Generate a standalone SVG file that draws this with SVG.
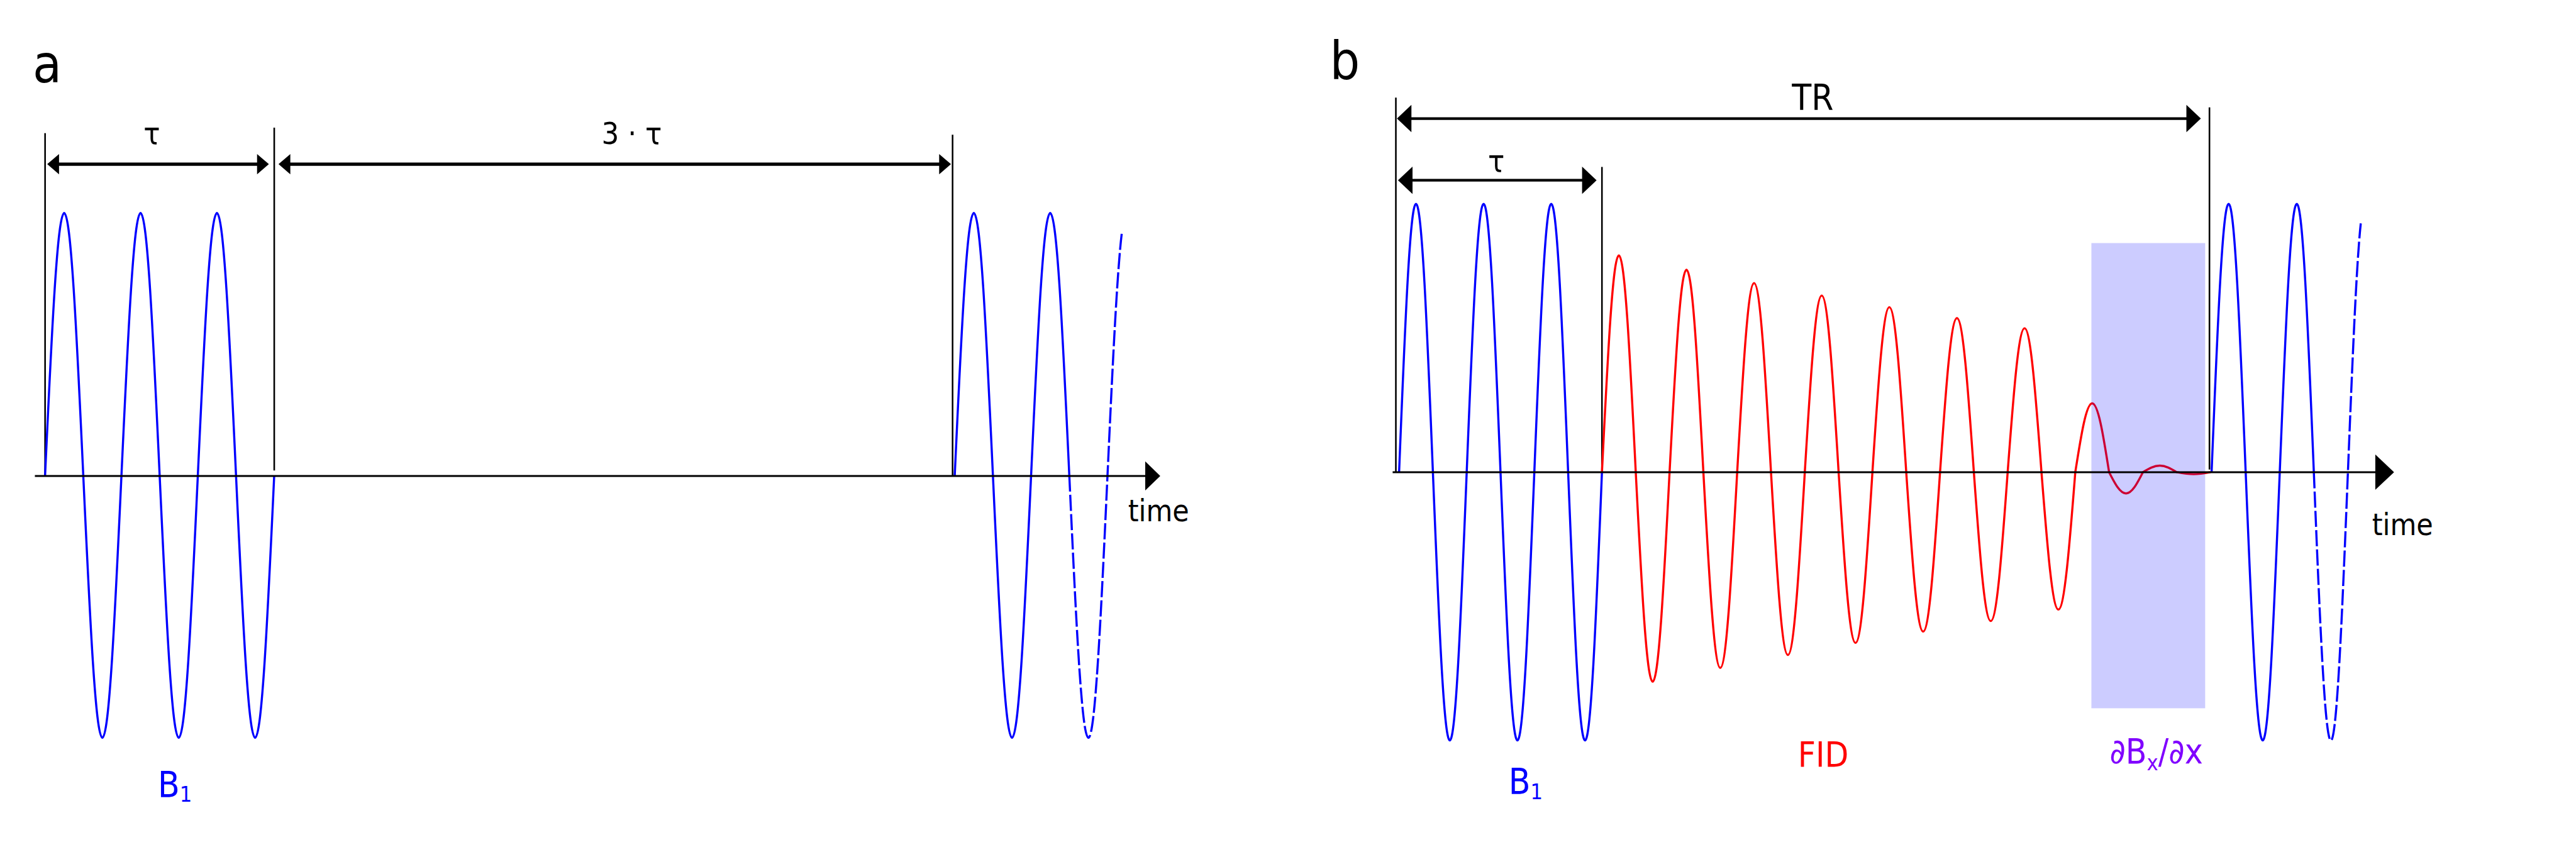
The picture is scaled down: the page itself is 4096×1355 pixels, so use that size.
<svg xmlns="http://www.w3.org/2000/svg" width="4096" height="1355" viewBox="0 0 4096 1355">
<style>
.bg{fill:#fff}
.wave{fill:none;stroke-width:4;stroke-linejoin:round}
.blue{stroke:#0000ff}
.red{stroke:#ff0000}
.dash{stroke-dasharray:30 6}
.vline{stroke:#000;stroke-width:3}
.axis{stroke:#000;stroke-width:3.5}
.dimA{stroke:#000;stroke-width:6}
.dimB{stroke:#000;stroke-width:5}
.head{fill:#000}
.grad{fill:#0000ff;fill-opacity:0.2}
.t{font-family:"DejaVu Sans","Liberation Sans",sans-serif;font-stretch:condensed}
.k{fill:#000}
.tb{fill:#0000ff}
.tr{fill:#ff0000}
.tp{fill:#8000ff}
</style>
<rect class="bg" x="0" y="0" width="4096" height="1355"/>
<g transform="scale(0.853333)">
  <g id="panel-a">
    <text id="label-a" class="t k" x="61" y="153" font-size="98">a</text>
    <g id="a-guides">
      <line class="vline" x1="84" y1="248" x2="84" y2="887"/>
      <line class="vline" x1="511" y1="238" x2="511" y2="877"/>
      <line class="vline" x1="1775" y1="251" x2="1775" y2="887"/>
    </g>
    <g id="a-pulse1">
      <path class="wave blue" d="M84,886
        c12.51,-270.07 23.07,-489 35.58,-489 c12.51,0 23.07,218.93 35.58,489 c12.51,270.07 23.07,489 35.58,489 c12.51,0 23.07,-218.93 35.58,-489
        c12.51,-270.07 23.07,-489 35.58,-489 c12.51,0 23.07,218.93 35.58,489 c12.51,270.07 23.07,489 35.58,489 c12.51,0 23.07,-218.93 35.58,-489
        c12.51,-270.07 23.07,-489 35.58,-489 c12.51,0 23.07,218.93 35.58,489 c12.51,270.07 23.07,489 35.58,489 c12.51,0 23.07,-218.93 35.58,-489"/>
    </g>
    <g id="a-pulse2">
      <path class="wave blue" d="M1779,886
        c12.51,-270.07 23.07,-489 35.58,-489 c12.51,0 23.07,218.93 35.58,489 c12.51,270.07 23.07,489 35.58,489 c12.51,0 23.07,-218.93 35.58,-489
        c12.51,-270.07 23.07,-489 35.58,-489 c12.51,0 23.07,218.93 35.58,489"/>
      <path class="wave blue dash" d="M1992.5,886
        c12.51,270.07 23.07,489 35.58,489 c12.51,0 23.07,-218.93 35.58,-489
        c9.51,-205.25 17.89,-380.97 26.86,-453.49"/>
    </g>
    <text id="a-tau" class="t k" x="283" y="268" font-size="57" text-anchor="middle">τ</text>
    <text id="a-3tau" class="t k" x="1121" y="268" font-size="57">3 · τ</text>
    <text id="a-time" class="t k" x="2102" y="972" font-size="56">time</text>
    <text id="a-B1" class="t tb" x="294" y="1486" font-size="66">B<tspan font-size="40" dy="8">1</tspan></text>
  </g>

  <g id="panel-b">
    <text id="label-b" class="t k" x="2478" y="148" font-size="98">b</text>
    <g id="b-guides">
      <line class="vline" x1="2601" y1="182" x2="2601" y2="880"/>
      <line class="vline" x1="2985" y1="311" x2="2985" y2="880"/>
      <line class="vline" x1="4117" y1="200" x2="4117" y2="875"/>
    </g>
    <g id="b-pulse1">
      <path class="wave blue" d="M2607,880
        c11.08,-276.15 20.43,-500 31.5,-500 c11.08,0 20.43,223.85 31.5,500 c11.08,276.15 20.43,500 31.5,500 c11.08,0 20.43,-223.85 31.5,-500
        c11.08,-276.15 20.43,-500 31.5,-500 c11.08,0 20.43,223.85 31.5,500 c11.08,276.15 20.43,500 31.5,500 c11.08,0 20.43,-223.85 31.5,-500
        c11.08,-276.15 20.43,-500 31.5,-500 c11.08,0 20.43,223.85 31.5,500 c11.08,276.15 20.43,500 31.5,500 c11.08,0 20.43,-223.85 31.5,-500"/>
    </g>
    <g id="b-fid">
      <path class="wave red" d="M2985,880
        c11.08,-223.13 20.43,-404 31.5,-404 c11.08,0 20.43,180.87 31.5,404 c11.08,215.67 20.43,390.5 31.5,390.5 c11.08,0 20.43,-174.83 31.5,-390.5
        c11.08,-208.38 20.43,-377.3 31.5,-377.3 c11.08,0 20.43,168.92 31.5,377.3 c11.08,201.42 20.43,364.7 31.5,364.7 c11.08,0 20.43,-163.28 31.5,-364.7
        c11.08,-194.63 20.43,-352.4 31.5,-352.4 c11.08,0 20.43,157.77 31.5,352.4 c11.08,188.11 20.43,340.6 31.5,340.6 c11.08,0 20.43,-152.49 31.5,-340.6
        c11.08,-181.76 20.43,-329.1 31.5,-329.1 c11.08,0 20.43,147.34 31.5,329.1 c11.08,175.69 20.43,318.1 31.5,318.1 c11.08,0 20.43,-142.41 31.5,-318.1
        c11.08,-169.78 20.43,-307.4 31.5,-307.4 c11.08,0 20.43,137.62 31.5,307.4 c11.08,164.03 20.43,297 31.5,297 c11.08,0 20.43,-132.97 31.5,-297
        c11.08,-158.57 20.43,-287.1 31.5,-287.1 c11.08,0 20.43,128.53 31.5,287.1 c11.08,153.21 20.43,277.4 31.5,277.4 c11.08,0 20.43,-124.19 31.5,-277.4
        c11.08,-148.07 20.43,-268.1 31.5,-268.1 c11.08,0 20.43,120.03 31.5,268.1 c11.08,141.39 20.43,256 31.5,256 c11.08,0 20.43,-114.61 31.5,-256
        c11.08,-70.86 20.43,-128.3 31.5,-128.3 c11.08,0 20.43,57.44 31.5,128.3 c11.08,21.87 20.43,39.6 31.5,39.6 c11.08,0 20.43,-17.73 31.5,-39.6
        c11.08,-6.74 20.43,-12.2 31.5,-12.2 c11.08,0 20.43,5.46 31.5,12.2 c11.08,2.04 20.43,3.7 31.5,3.7 c11.08,0 20.43,-1.66 31.5,-3.7"/>
    </g>
    <rect id="b-gradient" class="grad" x="3897" y="453" width="212" height="867"/>
    <g id="b-pulse2">
      <path class="wave blue" d="M4121,880
        c11.16,-276.15 20.59,-500 31.75,-500 c11.16,0 20.59,223.85 31.75,500 c11.16,276.15 20.59,500 31.75,500 c11.16,0 20.59,-223.85 31.75,-500
        c11.16,-276.15 20.59,-500 31.75,-500 c11.16,0 20.59,223.85 31.75,500"/>
      <path class="wave blue dash" d="M4311.5,880
        c11.16,276.15 20.59,500 31.75,500 c11.16,0 20.59,-223.85 31.75,-500
        c8.48,-209.87 15.96,-389.54 23.96,-463.69"/>
    </g>
    <text id="b-TR" class="t k" x="3339" y="205" font-size="66">TR</text>
    <text id="b-tau" class="t k" x="2788" y="320" font-size="57" text-anchor="middle">τ</text>
    <text id="b-time" class="t k" x="4420" y="997" font-size="56">time</text>
    <text id="b-B1" class="t tb" x="2811" y="1480" font-size="66">B<tspan font-size="40" dy="9">1</tspan></text>
    <text id="b-FID" class="t tr" x="3350" y="1429" font-size="64">FID</text>
    <text id="b-grad-label" class="t tp" x="3931" y="1423" font-size="64">∂B<tspan font-size="40" dy="12">x</tspan><tspan dy="-12">/∂x</tspan></text>
  </g>

  <g id="connectors">
    <line class="axis" x1="65" y1="887" x2="2136" y2="887"/>
    <polygon class="head" points="2134,860 2162,887 2134,914"/>
    <line class="dimA" x1="105" y1="306" x2="484" y2="306"/>
    <polygon class="head" points="88,306 110,287 110,325"/>
    <polygon class="head" points="501,306 479,287 479,325"/>
    <line class="dimA" x1="536" y1="306" x2="1755" y2="306"/>
    <polygon class="head" points="519,306 541,287 541,325"/>
    <polygon class="head" points="1772,306 1750,287 1750,325"/>

    <line class="axis" x1="2595" y1="880" x2="4428" y2="880"/>
    <polygon class="head" points="4426,847 4461,880 4426,913"/>
    <line class="dimB" x1="2625" y1="221" x2="4080" y2="221"/>
    <polygon class="head" points="2603,221 2630,195.5 2630,246.5"/>
    <polygon class="head" points="4101,221 4074,195.5 4074,246.5"/>
    <line class="dimB" x1="2627" y1="336" x2="2953" y2="336"/>
    <polygon class="head" points="2605,336 2632,310.5 2632,361.5"/>
    <polygon class="head" points="2975,336 2948,310.5 2948,361.5"/>
  </g>
</g>
</svg>
